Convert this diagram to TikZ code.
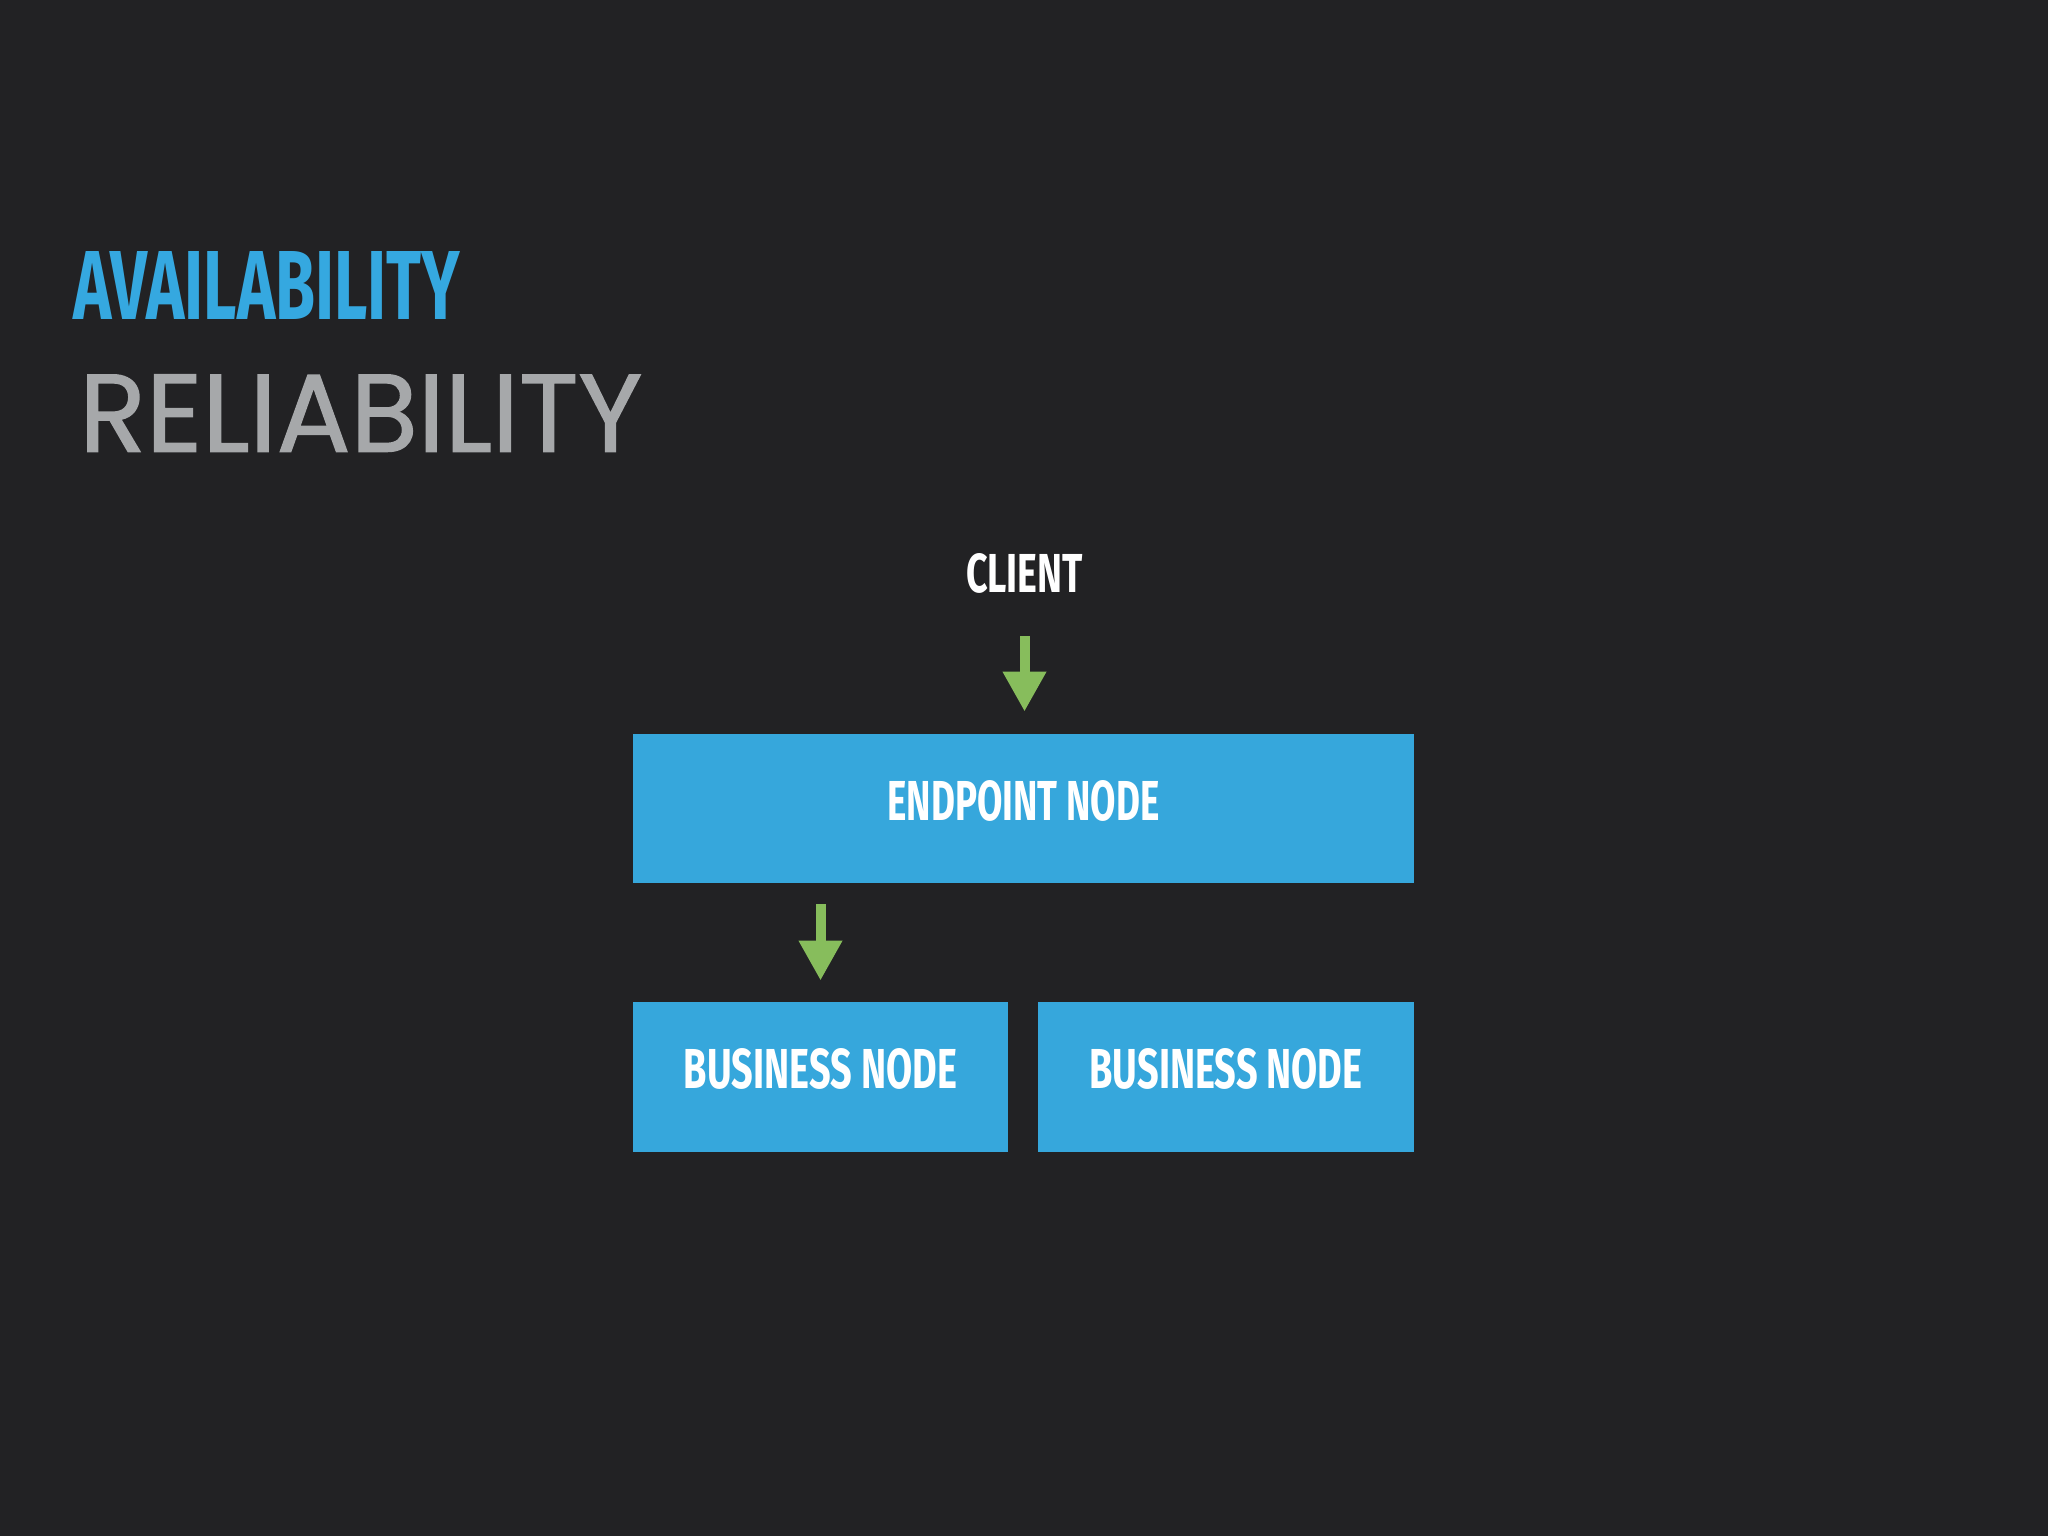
\documentclass[tikz,border=0pt]{standalone}
\usepackage{fontspec}
\usepackage{graphicx}
\usetikzlibrary{arrows.meta}
\newfontfamily\dinfont{Fira Sans}
\newfontfamily\geofont[FakeBold=1.2]{Poppins}
\definecolor{bgc}{HTML}{222224}
\definecolor{bluec}{HTML}{36A7DC}
\definecolor{titleblue}{HTML}{35A8E0}
\definecolor{grayc}{HTML}{A6A8AA}
\definecolor{greenc}{HTML}{87BD5C}
\tikzset{
  boxnode/.style={fill=bluec, draw=none, inner sep=0pt, text=white},
  txt/.style={inner sep=0pt, anchor=south west},
  garrow/.style={draw=greenc, line width=5pt, line cap=butt,
    -{Triangle[width=20.5pt,length=20pt]}, fill=greenc}
}
\newcommand{\din}[3]{\resizebox{#1}{#2}{\dinfont\bfseries #3}}
\begin{document}
\begin{tikzpicture}[x=0.5pt,y=-0.5pt]
\fill[bgc] (0,0) rectangle (2048,1536);
\useasboundingbox (0,0) rectangle (2048,1536);

\node[txt, text=titleblue] (avail) at (73,320) {\din{193.5pt}{34pt}{AVAILABILITY}};
\node[txt, text=grayc] (relia) at (79,452) {\resizebox{281.5pt}{38.5pt}{\geofont RELIABILITY}};

\node[txt, anchor=south, text=white] (client) at (1024.5,594) {\din{58.5pt}{19.5pt}{CLIENT}};

\node[boxnode, minimum width=390.5pt, minimum height=74.5pt] (endpoint) at (1023.5,808.5)
  {\raisebox{8.5pt}{\din{136pt}{20pt}{ENDPOINT NODE}}};
\node[boxnode, minimum width=187.5pt, minimum height=75pt] (bus1) at (820.5,1077)
  {\raisebox{9pt}{\din{136.5pt}{20pt}{BUSINESS NODE}}};
\node[boxnode, minimum width=188pt, minimum height=75pt] (bus2) at (1226,1077)
  {\raisebox{9pt}{\din{136.5pt}{20pt}{BUSINESS NODE}}};

\draw[garrow, shorten <=21pt, shorten >=11pt] (client.south) -- (client.south |- endpoint.north);
\draw[garrow, shorten <=10.5pt, shorten >=10.5pt] (bus1.north |- endpoint.south) -- (bus1.north);
\end{tikzpicture}
\end{document}
